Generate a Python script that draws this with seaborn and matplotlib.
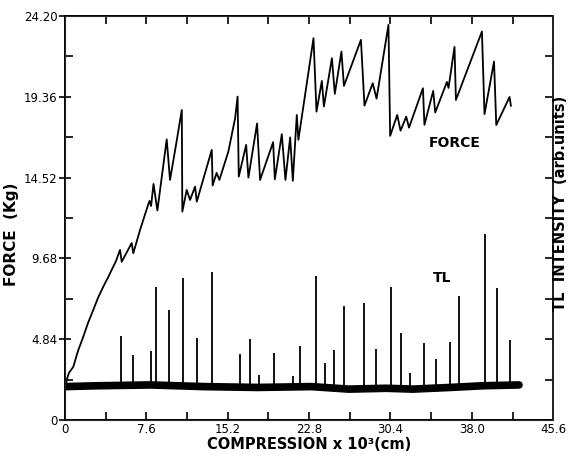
import numpy as np
import matplotlib
matplotlib.use("Agg")
import matplotlib.pyplot as plt
import seaborn as sns
from matplotlib.ticker import FixedLocator, MultipleLocator

# force trace (compression x10^3 cm, force in kg)
force_x = [0.00, 0.16, 0.37, 0.78, 1.21, 1.71, 2.15, 2.64, 3.08, 3.58, 4.05, 4.36,
           4.77, 5.14, 5.30, 6.23, 6.38, 7.01, 7.79, 7.90, 8.04, 8.27, 8.63, 9.50,
           9.81, 10.37, 10.91, 10.96, 11.37, 11.68, 12.15, 12.31, 13.71, 13.79, 14.16,
           14.42, 15.26, 15.89, 16.12, 16.23, 16.92, 17.13, 17.94, 18.22, 19.44, 19.60,
           20.25, 20.59, 21.03, 21.28, 21.65, 21.80, 23.21, 23.49, 23.99, 24.18, 24.93,
           25.20, 25.82, 26.05, 27.64, 27.97, 28.74, 29.10, 30.21, 30.37, 31.03, 31.34,
           31.87, 32.13, 33.43, 33.57, 34.39, 34.58, 35.67, 35.82, 36.38, 36.51, 38.94,
           39.18, 40.07, 40.28, 41.52, 41.65]
force_y = [1.68, 2.40, 2.82, 3.19, 4.13, 4.99, 5.81, 6.59, 7.31, 7.99, 8.57, 8.99,
           9.53, 10.19, 9.48, 10.60, 9.99, 11.38, 12.94, 13.12, 12.82, 14.14, 12.55, 16.81,
           14.38, 16.48, 18.57, 12.48, 13.78, 13.18, 13.98, 13.08, 16.18, 14.05, 14.80,
           14.38, 16.08, 18.08, 19.37, 14.58, 16.48, 14.52, 17.76, 14.38, 16.64, 14.42,
           17.12, 14.38, 16.93, 14.33, 18.27, 16.78, 22.87, 18.47, 20.31, 18.78, 21.67,
           19.53, 22.07, 20.01, 22.77, 18.83, 20.17, 19.25, 23.67, 17.02, 18.27, 17.33,
           18.17, 17.51, 19.87, 17.68, 19.71, 18.42, 20.25, 19.89, 22.35, 19.17, 23.27,
           18.32, 21.47, 17.67, 19.35, 18.81]

# TL peaks: position and top of each spike (drawn on the force scale)
tl_x = [5.20, 6.39, 8.01, 8.50, 9.75, 11.06, 12.37, 13.77, 16.36, 17.29, 18.13, 19.56,
        21.28, 21.96, 23.43, 24.24, 25.08, 26.07, 27.94, 29.07, 30.44, 31.37, 32.24,
        33.55, 34.64, 36.00, 36.76, 39.25, 40.31, 41.53]
tl_top = [5.03, 3.89, 4.13, 7.95, 6.59, 8.49, 4.89, 8.89, 3.93, 4.83, 2.70, 4.03,
          2.64, 4.43, 8.63, 3.43, 4.19, 6.83, 6.99, 4.24, 7.99, 5.19, 2.83,
          4.63, 3.64, 4.66, 7.43, 11.14, 7.89, 4.79]

# TL background level
base_x = [0, 3, 8, 13, 18, 23, 26.5, 30, 32.5, 36, 39, 42.4]
base_y = [2.0, 2.05, 2.1, 2.0, 1.95, 2.0, 1.85, 1.9, 1.85, 1.95, 2.05, 2.1]

x_ticks = [0, 7.6, 15.2, 22.8, 30.4, 38.0, 45.6]
x_labels = ["0", "7.6", "15.2", "22.8", "30.4", "38.0", "45.6"]
y_ticks = [0, 4.84, 9.68, 14.52, 19.36, 24.20]
y_labels = ["0", "4.84", "9.68", "14.52", "19.36", "24.20"]

sns.set_style("ticks")
plt.rcParams["font.family"] = ["DejaVu Sans"]
plt.rcParams["text.color"] = "black"
plt.rcParams["axes.labelcolor"] = "black"
plt.rcParams["xtick.color"] = "black"
plt.rcParams["ytick.color"] = "black"

fig = plt.figure(figsize=(5.72, 4.54), dpi=100)
ax = fig.add_axes([0.1136, 0.0749, 0.8536, 0.8899])

# TL trace
sns.lineplot(x=base_x, y=base_y, ax=ax, color="black", lw=5.5, estimator=None, sort=False)
ax.vlines(0, 0.6, 2.0, color="black", lw=1.2)
ax.vlines(tl_x, 2.0, tl_top, color="black", lw=1.3)

# force trace
sns.lineplot(x=force_x, y=force_y, ax=ax, color="black", lw=1.3, estimator=None, sort=False)

ax.set_xlim(0, 45.6)
ax.set_ylim(0, 24.2)
ax.xaxis.set_major_locator(FixedLocator(x_ticks))
ax.set_xticklabels(x_labels)
ax.xaxis.set_minor_locator(MultipleLocator(3.8))
ax.yaxis.set_major_locator(FixedLocator(y_ticks))
ax.set_yticklabels(y_labels)
ax.yaxis.set_minor_locator(MultipleLocator(2.42))

ax.tick_params(axis="x", which="both", direction="in", top=True, length=6, width=1.2,
               labelsize=8.5, pad=2)
ax.tick_params(axis="y", which="major", direction="inout", length=9, width=1.2,
               labelsize=8.5, right=False, pad=1)
ax.tick_params(axis="y", which="minor", direction="in", length=6, width=1.2, right=False)
for s in ax.spines.values():
    s.set_linewidth(1.4)
    s.set_color("black")

# right hand TL axis, ticks only
ax2 = ax.twinx()
ax2.set_ylim(0, 24.2)
ax2.yaxis.set_major_locator(MultipleLocator(2.42))
ax2.tick_params(axis="y", direction="in", length=6, width=1.2, labelright=False)
ax2.spines["right"].set_linewidth(1.4)

ax.set_xlabel("COMPRESSION x 10³(cm)", fontsize=10.5, fontweight="bold", labelpad=1)
ax.set_ylabel("FORCE  (Kg)", fontsize=11, fontweight="bold", labelpad=2)
ax.yaxis.set_label_coords(-0.095, 0.46)
fig.text(0.993, 0.553, "TL  INTENSITY  (arb.units)", rotation=90, ha="right", va="center",
         fontsize=10.5, fontweight="bold")

ax.text(36.4, 16.6, "FORCE", ha="center", va="center", fontsize=10, fontweight="bold")
ax.text(35.2, 8.5, "TL", ha="center", va="center", fontsize=10, fontweight="bold")

plt.savefig("out.png", dpi=100)
